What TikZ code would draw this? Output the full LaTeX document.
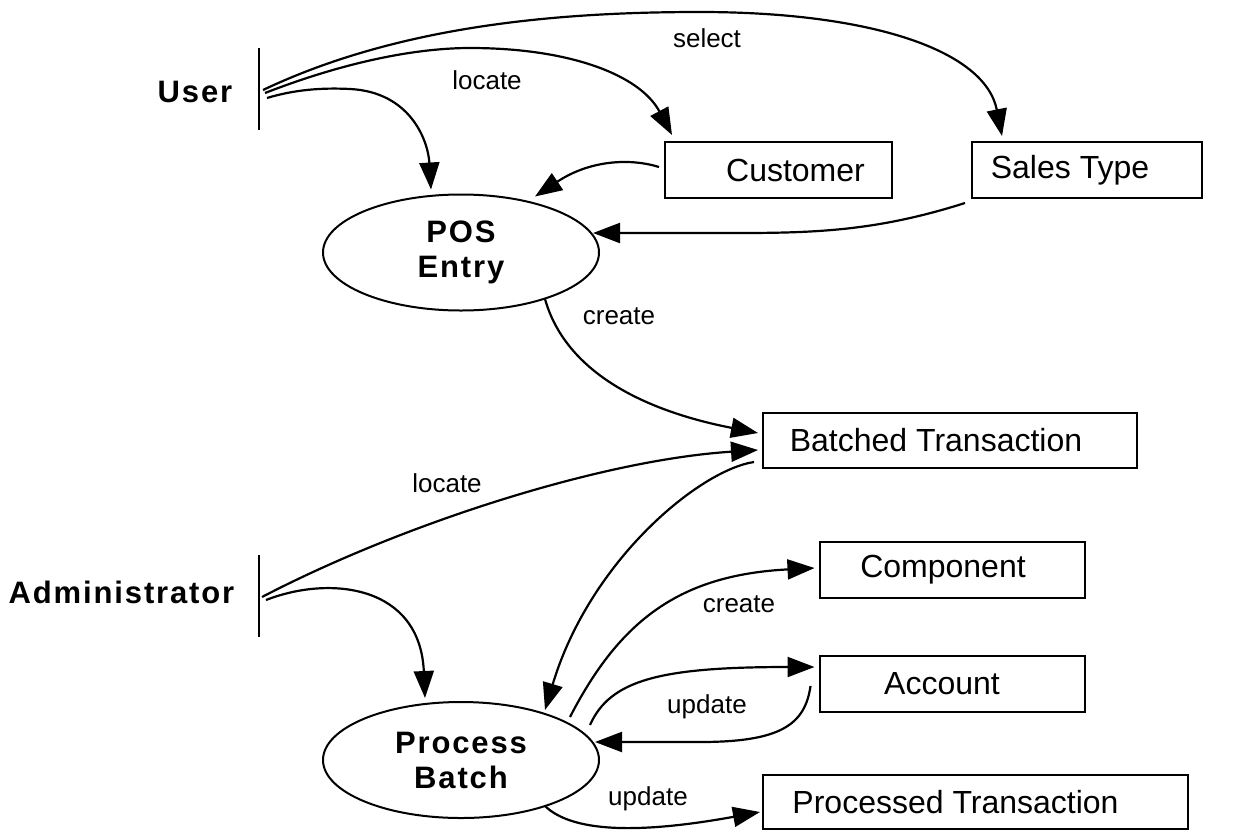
\documentclass[tikz,border=0pt]{standalone}
\usepackage{fontspec}
\setmainfont{Liberation Sans}
\newfontfamily\actfont[LetterSpace=6]{Liberation Sans}
\usetikzlibrary{shapes.geometric,arrows.meta,calc}
\begin{document}
\begin{tikzpicture}[x=1pt,y=-1pt,
  box/.style={draw,line width=2pt,rectangle,inner sep=0pt,font=\fontsize{32}{38}\selectfont},
  proc/.style={draw,line width=2pt,ellipse,inner sep=0pt,minimum width=276pt,minimum height=116pt,align=center,font=\actfont\bfseries\fontsize{31}{35}\selectfont},
  actor/.style={font=\actfont\bfseries\fontsize{31}{35}\selectfont,inner sep=0pt},
  barnode/.style={inner sep=0pt,minimum width=0pt,minimum height=82pt},
  bar/.style={line width=2pt},
  conn/.style={line width=2.2pt,-{Triangle[length=27pt,width=20pt]}},
  lbl/.style={font=\fontsize{26}{30}\selectfont,inner sep=0pt}]
\useasboundingbox (0,0) rectangle (1241,833);

% actors
\node[actor] (user) at (195,91.5) {User};
\node[actor] (admin) at (121.5,592.5) {Administrator};
\node[barnode] (ubar) at (259,89) {};
\node[barnode] (abar) at (259,596) {};
\draw[bar] (ubar.north) -- (ubar.south);
\draw[bar] (abar.north) -- (abar.south);

% processes
\node[proc] (pos) at (461,252.5) {POS\\Entry};
\node[proc] (pb) at (461,760) {Process\\Batch};

% data stores
\node[box,minimum width=227pt,minimum height=56pt] (cust) at (778.5,170) {\hspace*{34pt}Customer};
\node[box,minimum width=230pt,minimum height=56pt] (sales) at (1087,170) {Sales Type\hspace*{34pt}};
\node[box,minimum width=374pt,minimum height=55pt] (batch) at (950,440.5) {Batched Transaction\hspace*{28pt}};
\node[box,minimum width=265pt,minimum height=56pt] (comp) at (952,570) {Component\hspace*{18pt}};
\node[box,minimum width=265pt,minimum height=56pt] (acct) at (952,684) {Account\hspace*{20pt}};
\node[box,minimum width=425pt,minimum height=54pt] (ptr) at (975.5,802) {Processed Transaction\hspace*{40pt}};

% labels
\node[lbl] (lsel) at (707,38) {select};
\node[lbl] (lloc1) at (487,80) {locate};
\node[lbl] (lcr1) at (619,316) {create};
\node[lbl] (lloc2) at (447,483) {locate};
\node[lbl] (lcr2) at (739,604) {create};
\node[lbl] (lup1) at (707,707) {update};
\node[lbl] (lup2) at (648,799) {update};

% connectors
\draw[conn] ($(ubar.center)+(4,1)$) .. controls (400,25) and (560,12) .. (700,12)
   .. controls (870,12) and (985,50) .. ($(sales.north west)+(31,-5)$);
\draw[conn] ($(ubar.center)+(6,4)$) .. controls (350,60) and (420,48) .. (470,48)
   .. controls (570,48) and (640,75) .. ($(cust.north west)+(8,-6)$);
\draw[conn] ($(ubar.center)+(8,9)$) .. controls (300,88) and (330,88) .. (350,89)
   .. controls (410,92) and (428,140) .. ($(pos.center)+(-30,-63)$);
\draw[conn] ($(cust.west)+(-5,-3)$) .. controls (630,158) and (590,160) .. ($(pos.center)+(74,-56)$);
\draw[conn] ($(sales.south west)+(-6,4)$) .. controls (880,230) and (820,233) .. (740,233)
   -- ($(pos.center)+(132,-19.5)$);
\draw[conn] ($(pos.center)+(84,46.5)$) .. controls (565,370) and (640,410) .. ($(batch.west)+(-4,-7.5)$);
\draw[conn] ($(abar.center)+(3,1)$) .. controls (400,525) and (600,460) .. ($(batch.west)+(-4,9.5)$);
\draw[conn] ($(batch.south west)+(-8,-7)$) .. controls (700,470) and (590,560) .. ($(pb.center)+(84,-50)$);
\draw[conn] ($(abar.center)+(7,4)$) .. controls (330,575) and (420,585) .. ($(pb.center)+(-36,-62)$);
\draw[conn] ($(pb.center)+(109,-43)$) .. controls (620,620) and (680,575) .. ($(comp.west)+(-4,-2)$);
\draw[conn] ($(pb.center)+(129,-35)$) .. controls (610,680) and (660,667) .. ($(acct.west)+(-4,-17)$);
\draw[conn] ($(acct.west)+(-8,2)$) .. controls (805,725) and (780,742) .. (700,742)
   -- ($(pb.center)+(134,-18)$);
\draw[conn] ($(pb.center)+(84,46)$) .. controls (575,835) and (650,832) .. ($(ptr.west)+(-2,10)$);
\end{tikzpicture}
\end{document}
